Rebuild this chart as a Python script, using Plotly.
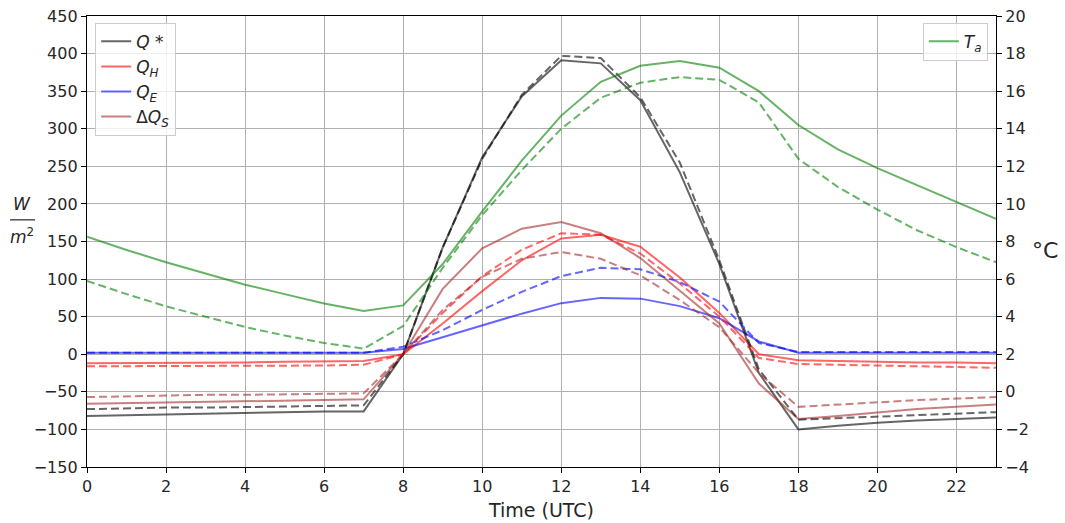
import plotly.graph_objects as go

hours = list(range(24))

qstar_solid = [-82, -81, -80, -79, -78, -77, -76, -76, 0, 142, 262, 343, 391, 387, 338, 242, 120, -25, -100, -95, -91, -88, -86, -84]
qstar_dash = [-73, -72, -71, -71, -70, -69, -68, -68, 0, 142, 260, 345, 397, 394, 342, 255, 125, -20, -87, -85, -83, -81, -79, -77]
qh_solid = [-12, -12, -11, -11, -11, -10, -10, -9, 0, 41, 84, 125, 154, 159, 143, 102, 55, 0, -8, -9, -10, -11, -11, -12]
qh_dash = [-16, -16, -16, -16, -15, -15, -15, -14, 0, 55, 104, 139, 161, 159, 134, 94, 50, -5, -13, -14, -15, -16, -17, -18]
qe_solid = [2, 2, 2, 2, 2, 2, 2, 2, 7, 23, 39, 54, 68, 75, 74, 64, 48, 17, 2, 2, 2, 2, 2, 2]
qe_dash = [2, 2, 2, 2, 2, 2, 2, 2, 10, 32, 59, 83, 104, 115, 113, 96, 70, 15, 3, 3, 3, 3, 3, 3]
dqs_solid = [-66, -65, -64, -63, -62, -61, -61, -60, 0, 87, 141, 167, 176, 161, 128, 85, 41, -39, -86, -82, -77, -73, -70, -67]
dqs_dash = [-57, -56, -55, -54, -54, -53, -53, -52, 0, 59, 103, 127, 136, 127, 105, 72, 36, -25, -70, -67, -64, -61, -59, -57]
ta_solid = [8.25, 7.55, 6.9, 6.3, 5.7, 5.2, 4.7, 4.3, 4.6, 6.8, 9.6, 12.3, 14.7, 16.5, 17.35, 17.6, 17.25, 16.0, 14.2, 12.9, 11.9, 11.0, 10.1, 9.2]
ta_dash = [5.9, 5.2, 4.55, 4.0, 3.45, 3.0, 2.6, 2.3, 3.5, 6.6, 9.4, 11.8, 14.0, 15.65, 16.45, 16.75, 16.6, 15.4, 12.4, 10.9, 9.7, 8.6, 7.7, 6.9]

x_ticks = list(range(0, 24, 2))
y_ticks = list(range(-150, 451, 50))
y2_ticks = list(range(-4, 21, 2))

C_QSTAR = "rgba(0,0,0,0.6)"
C_QH = "rgba(255,0,0,0.6)"
C_QE = "rgba(0,0,255,0.6)"
C_DQS = "rgba(165,42,42,0.6)"
C_TA = "rgba(0,128,0,0.6)"
DASH = "8px,4px"

fig = go.Figure()

series = [
    ("<i>Q</i> *", qstar_solid, qstar_dash, C_QSTAR),
    ("<i>Q<sub>H</sub></i>", qh_solid, qh_dash, C_QH),
    ("<i>Q<sub>E</sub></i>", qe_solid, qe_dash, C_QE),
    ("Δ<i>Q<sub>S</sub></i>", dqs_solid, dqs_dash, C_DQS),
]
for name, s, d, c in series:
    fig.add_trace(go.Scatter(x=hours, y=s, mode="lines", name=name,
                             line=dict(color=c, width=2), legend="legend"))
for name, s, d, c in series:
    fig.add_trace(go.Scatter(x=hours, y=d, mode="lines", showlegend=False,
                             line=dict(color=c, width=2, dash=DASH)))

fig.add_trace(go.Scatter(x=hours, y=ta_solid, mode="lines", name="<i>T<sub>a</sub></i>",
                         line=dict(color=C_TA, width=2), yaxis="y2", legend="legend2"))
fig.add_trace(go.Scatter(x=hours, y=ta_dash, mode="lines", showlegend=False,
                         line=dict(color=C_TA, width=2, dash=DASH), yaxis="y2"))

font_fam = "DejaVu Sans"
fig.update_layout(
    width=1065, height=523,
    margin=dict(l=87, r=69, t=16, b=56, autoexpand=False),
    paper_bgcolor="white", plot_bgcolor="white",
    font=dict(family=font_fam, size=16, color="#262626"),
    xaxis=dict(range=[0, 23], tickvals=x_ticks, showgrid=True, gridcolor="#b0b0b0", gridwidth=1,
               ticks="outside", ticklen=5, tickcolor="black", showline=True, linecolor="black",
               linewidth=1.3, mirror=True, zeroline=False, automargin=False,
               title=dict(text="Time (UTC)", font=dict(size=19), standoff=8)),
    yaxis=dict(range=[-150, 450], tickvals=y_ticks, showgrid=True, gridcolor="#b0b0b0", gridwidth=1,
               ticks="outside", ticklen=5, tickcolor="black", showline=True, linecolor="black",
               linewidth=1.3, mirror=True, zeroline=False, tickformat="d", automargin=False),
    yaxis2=dict(range=[-4, 20], tickvals=y2_ticks, overlaying="y", side="right", showgrid=False,
                ticks="outside", ticklen=5, tickcolor="black", showline=True, linecolor="black",
                linewidth=1.3, zeroline=False, automargin=False),
    legend=dict(x=0.009, y=0.985, xanchor="left", yanchor="top", bgcolor="rgba(255,255,255,0.8)",
                bordercolor="#cccccc", borderwidth=1, font=dict(size=17)),
    legend2=dict(x=0.991, y=0.985, xanchor="right", yanchor="top", bgcolor="rgba(255,255,255,0.8)",
                 bordercolor="#cccccc", borderwidth=1, font=dict(size=17)),
    showlegend=True,
)

# left y label as a fraction W / m^2
fig.add_annotation(text="<i>W</i>", xref="paper", yref="paper", x=-0.071, y=0.556,
                   showarrow=False, font=dict(size=17), xanchor="center", yanchor="bottom")
fig.add_annotation(text="<i>m</i><sup>2</sup>", xref="paper", yref="paper", x=-0.071, y=0.542,
                   showarrow=False, font=dict(size=17), xanchor="center", yanchor="top")
fig.add_shape(type="line", xref="paper", yref="paper", x0=-0.0847, x1=-0.0572, y0=0.548, y1=0.548,
              line=dict(color="#262626", width=1.2))
fig.add_annotation(text="°C", xref="paper", yref="paper", x=1.037, y=0.481, showarrow=False,
                   font=dict(size=22), xanchor="left", yanchor="middle")

fig.write_html("out.html", config={"displayModeBar": False},
               post_script="document.body.style.margin='0';")
